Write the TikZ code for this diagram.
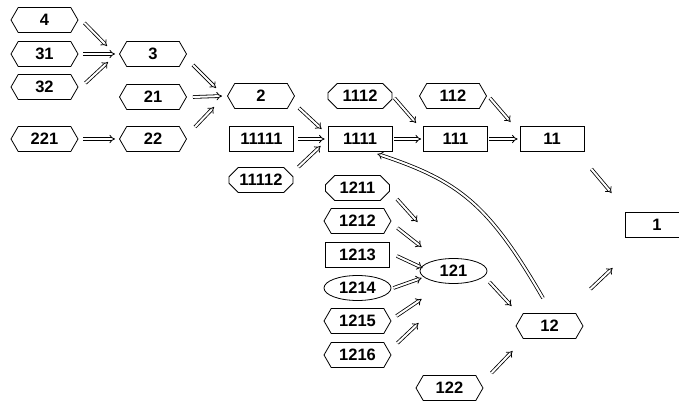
\documentclass[tikz,border=0pt]{standalone}
\usepackage{fontspec}
\setmainfont{Liberation Sans}
\newfontfamily\nodefont{Liberation Sans Bold}
\usepackage{tikz}
\usetikzlibrary{shapes.geometric, shapes.symbols, shapes.misc, arrows.meta}

\begin{document}
\begin{tikzpicture}[x=1pt, y=-1pt,
    every node/.style={draw, line width=0.8pt, inner sep=0pt,
        minimum width=64pt, minimum height=25pt,
        font=\nodefont\fontsize{16.5}{19}\selectfont},
    hex/.style={signal, signal to=west and east, signal pointer angle=120, minimum width=67pt},
    oct/.style={chamfered rectangle, chamfered rectangle xsep=6pt},
    box/.style={rectangle},
    ell/.style={ellipse, minimum width=67pt},
    imp/.style={double, double distance=2pt, line width=0.8pt, -{Implies[scale=1.5]}},
    ]
\useasboundingbox (0,0) rectangle (679,403);

% left part
\node[hex] (n4)   at (44.5,20)  {4};
\node[hex] (n31)  at (44.5,54)  {31};
\node[hex] (n32)  at (44.5,87)  {32};
\node[hex] (n221) at (44.5,139) {221};
\node[hex] (n3)   at (153,54)   {3};
\node[hex] (n21)  at (153,97)   {21};
\node[hex] (n22)  at (153,139)  {22};
\node[hex] (n2)   at (261,96)   {2};
\node[box] (n11111) at (261.5,139) {11111};
\node[oct, chamfered rectangle xsep=9pt] (n11112) at (261,180) {11112};

% middle row
\node[oct] (n1112) at (360,96)  {1112};
\node[box] (n1111) at (360,139) {1111};
\node[hex] (n112)  at (453,96)  {112};
\node[box] (n111)  at (455.5,139) {111};
\node[box] (n11)   at (552,139) {11};
\node[box] (n1)    at (657,225) {1};

% lower part
\node[oct] (n1211) at (357.5,188) {1211};
\node[hex] (n1212) at (357.5,221) {1212};
\node[box] (n1213) at (357.5,255) {1213};
\node[ell] (n1214) at (357.5,288) {1214};
\node[hex] (n1215) at (357.5,321) {1215};
\node[hex] (n1216) at (357.5,355) {1216};
\node[ell] (n121)  at (453.5,271) {121};
\node[hex] (n12)   at (549.5,326) {12};
\node[hex] (n122)  at (449.5,388) {122};

% implications
\foreach \s/\a/\t/\b in {4/{6,3}/3/{-12,-8}, 31/{5,0}/3/{-4,0}, 32/{7,-4}/3/{-11,8},
    3/{6,11}/2/{-11,-8}, 21/{6,0}/2/{-5,0}, 22/{8,-12}/2/{-13,11}, 221/{5,0}/22/{-4,0},
    2/{4,12}/1111/{-6,-10}, 11111/{4,0}/1111/{-3,0}, 11112/{5,-13}/1111/{-7,7},
    1112/{2,2}/111/{-7,-16}, 1111/{2,0}/111/{-2,0}, 112/{3,2}/11/{-9,-17},
    111/{1.5,0}/11/{-2,0}, 11/{7,30}/1/{-13,-32}, 12/{7,-37}/1/{-12,43},
    121/{2,11}/12/{-4,-20}, 122/{8,-15}/12/{-3,25},
    1211/{7,11}/121/{-2,-49}, 1212/{6,7}/121/{2,-24}, 1213/{7,1}/121/{3,-3},
    1214/{2,0}/121/{2,7}, 1215/{5,-5}/121/{2,28}, 1216/{6,-12}/121/{-1,52}}
    \draw[imp] ([shift={(\a)}]n\s.east) -- ([shift={(\b)}]n\t.west);

\draw[imp] ([shift={(-6.5,-15)}]n12.north) .. controls +(-55,-95) and +(81,27) .. ([shift={(-15,2)}]n1111.south east);
\end{tikzpicture}
\end{document}
